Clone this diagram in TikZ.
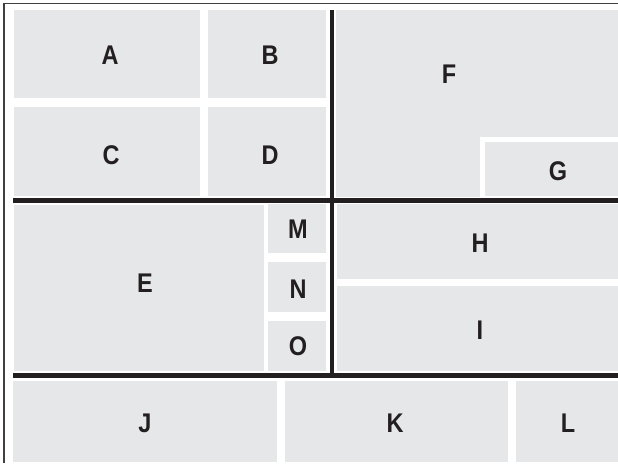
\documentclass[tikz,border=0pt]{standalone}
\usepackage{fontspec}
\setmainfont{Liberation Sans}
\newfontfamily\cellfont{Liberation Sans Bold}[FakeStretch=0.87]
\usetikzlibrary{positioning}
\definecolor{cellgray}{HTML}{E6E7E8}
\definecolor{darkline}{HTML}{231F20}
\definecolor{framegray}{HTML}{404040}
\tikzset{
  cell label/.style={font=\cellfont\fontsize{27}{31}\selectfont, text=darkline, inner sep=0pt},
  divider/.style={darkline, line width=4.2pt}
}

\begin{document}
\begin{tikzpicture}[x=1pt,y=-1pt]
\useasboundingbox (0,0) rectangle (618,463);
\fill[white] (0,0) rectangle (618,463);
\draw[framegray, line width=1.6pt] (4,463) -- (4,3.5) -- (618,3.5);

% top left block
\fill[cellgray] (14,10) rectangle (200,98);
\fill[cellgray] (208,10) rectangle (326,98);
\fill[cellgray] (14,107) rectangle (200,196);
\fill[cellgray] (208,107) rectangle (326,196);

% top right block
\fill[cellgray] (336,10) rectangle (618,197);
\fill[white] (480,137) rectangle (618,197);
\fill[cellgray] (485,142) rectangle (618,196);

% middle left block
\fill[cellgray] (14,205) rectangle (264,371);
\fill[cellgray] (268,204) rectangle (326,253);
\fill[cellgray] (268,262) rectangle (326,312);
\fill[cellgray] (268,321) rectangle (326,371);

% middle right block
\fill[cellgray] (337,204) rectangle (618,279);
\fill[cellgray] (337,286) rectangle (618,371);

% bottom row
\fill[cellgray] (13,381) rectangle (277,462);
\fill[cellgray] (285,381) rectangle (508,462);
\fill[cellgray] (516,381) rectangle (618,462);

% dividers
\coordinate (v top) at (332,10);
\coordinate (v bot) at (332,377.5);
\coordinate (h1 left) at (13,200.5);
\coordinate (h1 right) at (618,200.5);
\coordinate (h2 left) at (13,375.5);
\coordinate (h2 right) at (618,375.5);
\draw[divider] (h1 left) -- (h1 right);
\draw[divider] (h2 left) -- (h2 right);
\draw[divider] (v top) -- (v bot);

% labels
\node[cell label] (a) at (110,55) {A};
\node[cell label] (b) at (270,55) {B};
\node[cell label] (c) at (111,155) {C};
\node[cell label] (d) at (270,155) {D};
\node[cell label] (f) at (449,74) {F};
\node[cell label] (g) at (558,171) {G};
\node[cell label] (e) at (145,283) {E};
\node[cell label] (m) at (298,229) {M};
\node[cell label] (n) at (298,289) {N};
\node[cell label] (o) at (298,346) {O};
\node[cell label] (h) at (480,243) {H};
\node[cell label] (i) at (480,330) {I};
\node[cell label] (j) at (145,423) {J};
\node[cell label] (k) at (395,423) {K};
\node[cell label] (l) at (568,423) {L};
\end{tikzpicture}
\end{document}
